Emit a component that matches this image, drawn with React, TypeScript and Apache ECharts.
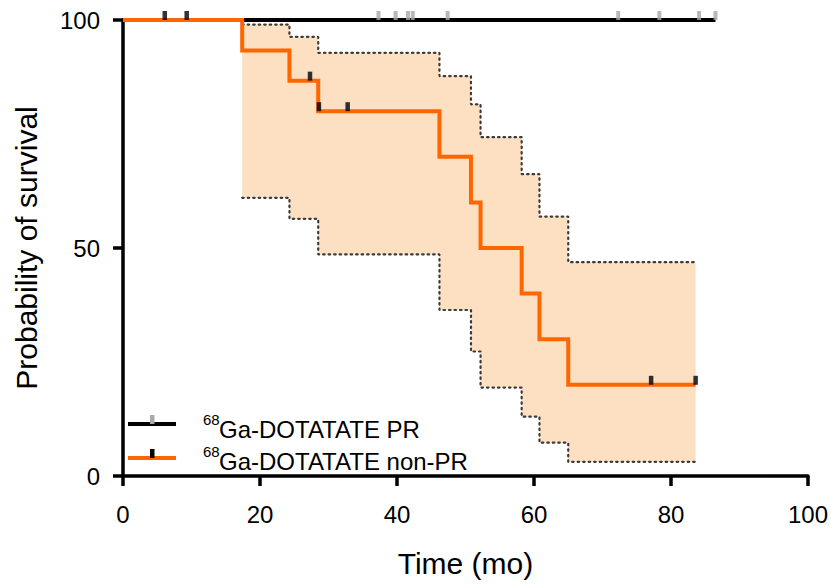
import React, { useEffect, useRef } from "react";
import * as echarts from "echarts";

// ---- Data ----
const xTicks = [0, 20, 40, 60, 80, 100];
const yTicks = [0, 50, 100];

// 68Ga-DOTATATE PR: no events, flat at 100 %
const prLine: [number, number][] = [
  [0, 100],
  [86.5, 100],
];
const prCensorTimes = [37.3, 39.8, 41.6, 42.3, 47.4, 72.3, 78.3, 84.1, 86.5];

// 68Ga-DOTATATE non-PR: Kaplan–Meier step curve
const nonPrTimes = [0, 17.4, 24.3, 28.5, 46.2, 50.8, 52.2, 58.2, 60.8, 65.0, 83.6];
const nonPrSurvival = [100, 93.3, 86.7, 80, 70, 60, 50, 40, 30, 20, 20];
const nonPrCensors: [number, number][] = [
  [6.1, 100],
  [9.3, 100],
  [27.3, 86.7],
  [28.6, 80],
  [32.8, 80],
  [77.1, 20],
  [83.6, 20],
];

// 95 % confidence band of the non-PR curve
const ciTimes = [17.4, 24.3, 28.5, 46.2, 50.8, 52.2, 58.2, 60.8, 65.0, 83.6];
const ciUpper = [99.0, 96.3, 92.8, 87.7, 81.5, 74.3, 66.2, 56.9, 46.9, 46.9];
const ciLower = [61.0, 56.4, 48.6, 36.4, 27.3, 19.4, 13.0, 7.3, 3.1, 3.1];

const legendLabels = ["Ga-DOTATATE PR", "Ga-DOTATATE non-PR"];
const legendSup = "68";

const FONT = "'Liberation Sans', Arial, Helvetica, sans-serif";
const ORANGE = "#FF6600";
const BAND = "#FDDFC1";
const GREY = "#A8A8A8";

function stepPoints(times: number[], vals: number[]): [number, number][] {
  const pts: [number, number][] = [];
  for (let i = 0; i < times.length; i++) {
    if (i > 0) pts.push([times[i], vals[i - 1]]);
    pts.push([times[i], vals[i]]);
  }
  return pts;
}

export default function App() {
  const ref = useRef<HTMLDivElement>(null);

  useEffect(() => {
    if (!ref.current) return;
    const chart = echarts.init(ref.current, null, { renderer: "svg" });

    const upperStep = stepPoints(ciTimes, ciUpper);
    const lowerStep = stepPoints(ciTimes, ciLower);

    const axisCommon = {
      type: "value" as const,
      splitLine: { show: false },
      axisLine: { show: true, lineStyle: { color: "#000", width: 3.5 } },
      axisTick: { show: true, length: 10, lineStyle: { color: "#000", width: 3.5 } },
      axisLabel: { color: "#000", fontSize: 24, fontFamily: FONT },
      nameTextStyle: { color: "#000", fontSize: 30, fontFamily: FONT },
    };

    const option: any = {
      animation: false,
      grid: { left: 123, right: 20, top: 20, bottom: 111 },
      xAxis: {
        ...axisCommon,
        min: 0,
        max: 100,
        interval: 20,
        name: "Time (mo)",
        nameLocation: "middle",
        nameGap: 72,
        axisLabel: { ...axisCommon.axisLabel, margin: 26 },
        customValues: xTicks,
      },
      yAxis: {
        ...axisCommon,
        min: 0,
        max: 100,
        interval: 50,
        name: "Probability of survival",
        nameLocation: "middle",
        nameGap: 82,
        axisLabel: { ...axisCommon.axisLabel, margin: 23 },
        customValues: yTicks,
      },
      series: [
        {
          type: "custom",
          name: "band",
          clip: false,
          silent: true,
          z: 1,
          data: [0],
          renderItem: (_params: any, api: any) => {
            const pts = upperStep
              .map((p) => api.coord(p))
              .concat(lowerStep.slice().reverse().map((p) => api.coord(p)));
            return {
              type: "polygon",
              shape: { points: pts },
              style: { fill: BAND, stroke: "none" },
            };
          },
        },
        {
          type: "line",
          name: "upper",
          data: ciUpper.map((v, i) => [ciTimes[i], v]),
          step: "end",
          symbol: "none",
          clip: false,
          z: 2,
          lineStyle: { color: "#3a3a3a", width: 2.2, type: [1.5, 4], cap: "round" },
        },
        {
          type: "line",
          name: "lower",
          data: ciLower.map((v, i) => [ciTimes[i], v]),
          step: "end",
          symbol: "none",
          clip: false,
          z: 2,
          lineStyle: { color: "#3a3a3a", width: 2.2, type: [1.5, 4], cap: "round" },
        },
        {
          type: "line",
          name: "68Ga-DOTATATE PR",
          data: prLine,
          symbol: "none",
          clip: false,
          z: 3,
          lineStyle: { color: "#000", width: 4 },
        },
        {
          type: "line",
          name: "68Ga-DOTATATE non-PR",
          data: nonPrSurvival.map((v, i) => [nonPrTimes[i], v]),
          step: "end",
          symbol: "none",
          clip: false,
          z: 4,
          lineStyle: { color: ORANGE, width: 4, join: "miter" },
        },
        {
          type: "scatter",
          name: "PR censored",
          data: prCensorTimes.map((t) => [t, 100]),
          symbol: "rect",
          symbolSize: [4, 9],
          symbolOffset: [0, -4.5],
          clip: false,
          z: 5,
          itemStyle: { color: GREY },
        },
        {
          type: "scatter",
          name: "non-PR censored",
          data: nonPrCensors,
          symbol: "rect",
          symbolSize: [4.5, 9],
          symbolOffset: [0, -4.5],
          clip: false,
          z: 5,
          itemStyle: { color: "#000" },
        },
      ],
      graphic: [
        { type: "line", shape: { x1: 128, y1: 424, x2: 176, y2: 424 }, style: { stroke: "#000", lineWidth: 4 } },
        { type: "rect", shape: { x: 150, y: 415, width: 4.5, height: 9 }, style: { fill: GREY } },
        { type: "line", shape: { x1: 128, y1: 458, x2: 176, y2: 458 }, style: { stroke: ORANGE, lineWidth: 4 } },
        { type: "rect", shape: { x: 150, y: 449, width: 4.5, height: 9 }, style: { fill: "#000" } },
        {
          type: "text",
          x: 203,
          y: 419,
          style: { text: legendSup, fontSize: 15, fontFamily: FONT, fill: "#000", verticalAlign: "middle" },
        },
        {
          type: "text",
          x: 219,
          y: 429,
          style: { text: legendLabels[0], fontSize: 24, fontFamily: FONT, fill: "#000", verticalAlign: "middle" },
        },
        {
          type: "text",
          x: 203,
          y: 451,
          style: { text: legendSup, fontSize: 15, fontFamily: FONT, fill: "#000", verticalAlign: "middle" },
        },
        {
          type: "text",
          x: 219,
          y: 461,
          style: { text: legendLabels[1], fontSize: 24, fontFamily: FONT, fill: "#000", verticalAlign: "middle" },
        },
      ],
    };

    chart.setOption(option);
    return () => chart.dispose();
  }, []);

  return (
    <div
      ref={ref}
      style={{ position: "fixed", left: 0, top: 0, width: 831, height: 587, background: "#fff" }}
    />
  );
}
